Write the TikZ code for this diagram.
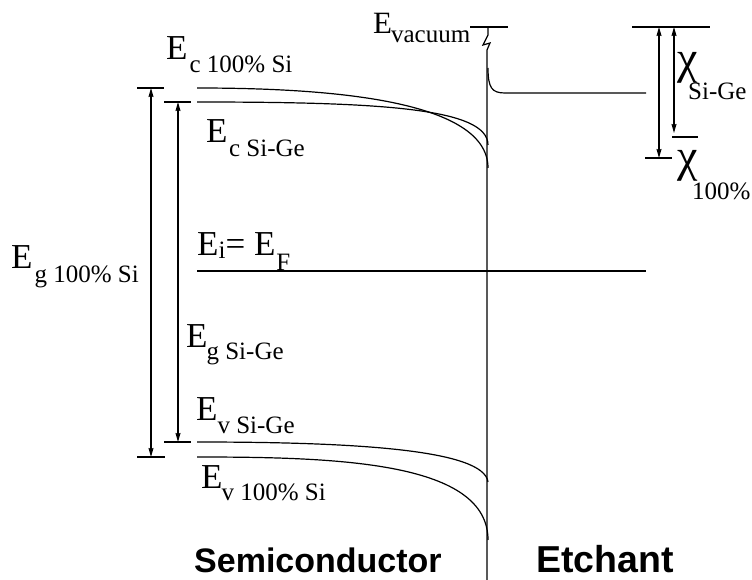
\documentclass[tikz,border=0pt]{standalone}
\usepackage{fontspec}
\setmainfont{Liberation Serif}
\newfontfamily\hvbold[BoldFont={Liberation Sans Bold}]{Liberation Sans}
\usetikzlibrary{arrows.meta}
\newcommand\subtxt[3]{\kern#1\raisebox{-#2}{\fontsize{25}{25}\selectfont #3}}
\begin{document}
\begin{tikzpicture}[x=1pt,y=-1pt,
  band/.style={line width=1.2pt},
  tick/.style={line width=1.1pt},
  dim/.style={line width=1.1pt,{Stealth[length=9pt,width=5pt,inset=1pt]}-{Stealth[length=9pt,width=5pt,inset=1pt]}},
  elab/.style={anchor=base west,inner sep=0pt,font=\fontsize{35}{35}\selectfont},
  chil/.style={anchor=base west,inner sep=0pt,font=\fontsize{46}{46}\selectfont},
  slab/.style={anchor=base west,inner sep=0pt,font=\fontsize{25}{25}\selectfont},
  big/.style={anchor=base west,inner sep=0pt,font=\hvbold\bfseries\fontsize{34}{34}\selectfont}]
\useasboundingbox (0,0) rectangle (752,580);

% coordinates
\coordinate (vacL) at (470,27);
\coordinate (vacR) at (508,27);
\coordinate (zz0) at (488,27);
\coordinate (ifB) at (487,580);
\coordinate (etA) at (488,68);
\coordinate (etB) at (505,93);
\coordinate (etC) at (646,93);
\coordinate (cSi0) at (197,88);
\coordinate (cSi1) at (488,168);
\coordinate (cSG0) at (197,102);
\coordinate (cSG1) at (488,145);
\coordinate (vSG0) at (197,442);
\coordinate (vSG1) at (488,482);
\coordinate (vSi0) at (197,457);
\coordinate (vSi1) at (488,540);
\coordinate (fL) at (197,271);
\coordinate (fR) at (646,271);

% vacuum level and interface with break
\draw[band] (vacL) -- (vacR);
\draw[band] (zz0) -- (488,35) -- (483,45) -- (490,43) -- (487,50) -- (ifB);
% etchant level
\draw[band] (etA) .. controls (488,88) and (492,93) .. (etB) -- (etC);

% conduction bands
\draw[band] (cSi0) .. controls (330,88) and (488,100) .. (cSi1);
\draw[band] (cSG0) .. controls (380,102) and (488,108) .. (cSG1);
% valence bands
\draw[band] (vSG0) .. controls (350,442) and (484,449) .. (vSG1);
\draw[band] (vSi0) .. controls (340,457) and (488,462) .. (vSi1);
% Fermi level
\draw[band] (fL) -- (fR);

% left ticks and gap arrows
\coordinate (t1a) at (137,88);  \coordinate (t1b) at (164,88);
\coordinate (t2a) at (164,102); \coordinate (t2b) at (191,102);
\coordinate (t3a) at (164,442); \coordinate (t3b) at (191,442);
\coordinate (t4a) at (137,457); \coordinate (t4b) at (165,457);
\draw[tick] (t1a) -- (t1b);
\draw[tick] (t2a) -- (t2b);
\draw[tick] (t3a) -- (t3b);
\draw[tick] (t4a) -- (t4b);
\coordinate (a1t) at (151,88);  \coordinate (a1b) at (151,457);
\coordinate (a2t) at (178,102); \coordinate (a2b) at (178,442);
\draw[dim] (a1t) -- (a1b);
\draw[dim] (a2t) -- (a2b);

% right electron affinity
\coordinate (r0a) at (632,27);  \coordinate (r0b) at (710,27);
\coordinate (r1a) at (645,158); \coordinate (r1b) at (672,158);
\coordinate (r2a) at (672,137); \coordinate (r2b) at (698,137);
\draw[tick] (r0a) -- (r0b);
\draw[tick] (r1a) -- (r1b);
\draw[tick] (r2a) -- (r2b);
\coordinate (x1t) at (659,27);  \coordinate (x1b) at (659,158);
\coordinate (x2t) at (674,27);  \coordinate (x2b) at (674,133);
\draw[dim] (x1t) -- (x1b);
\draw[dim] (x2t) -- (x2b);

% labels
\node[elab,font=\fontsize{31}{31}\selectfont] (lvac) at (373,34) {E\subtxt{-1pt}{9pt}{vacuum}};
\node[elab] (lcSi) at (166,60) {E\subtxt{2pt}{13pt}{c 100\% Si}};
\node[elab] (lcSG) at (206,143) {E\subtxt{1.5pt}{14pt}{c Si-Ge}};
\node[elab] (lgSi) at (11,268) {E\subtxt{2pt}{14pt}{g 100\% Si}};
\node[elab] (lF) at (197,255) {E\subtxt{0pt}{3pt}{i}= E\subtxt{1pt}{15pt}{F}};
\node[elab] (lgSG) at (186,347) {E\subtxt{-1pt}{12pt}{g Si-Ge}};
\node[elab] (lvSG) at (196,420) {E\subtxt{0pt}{13pt}{v Si-Ge}};
\node[elab] (lvSi) at (201,488) {E\subtxt{-1pt}{12pt}{v 100\% Si}};
\node[chil] (chi1) at (677,74) {χ};
\node[slab] (chi1s) at (688,100) {Si-Ge};
\node[chil] (chi2) at (677,172) {χ};
\node[slab] (chi2s) at (692,200) {100\%};
\node[big] (semi) at (194,572) {Semiconductor};
\node[big,font=\hvbold\bfseries\fontsize{37.5}{37.5}\selectfont] (etch) at (536,572) {Etchant};
\end{tikzpicture}
\end{document}
